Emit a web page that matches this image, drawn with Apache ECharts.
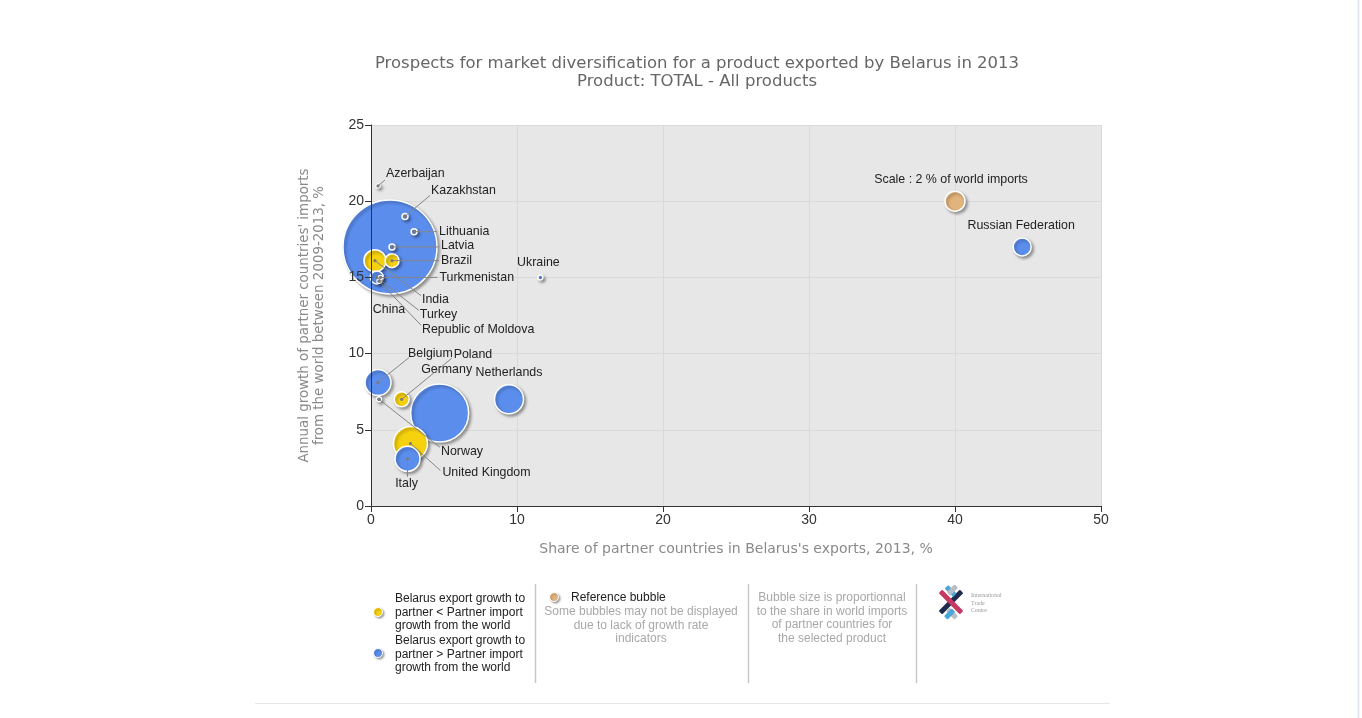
<!DOCTYPE html>
<html>
<head>
<meta charset="utf-8">
<script src="https://cdn.jsdelivr.net/npm/echarts@6/dist/echarts.min.js"></script>
<style>
html,body{margin:0;padding:0;background:#fff;}
#main{width:1362px;height:718px;}
</style>
</head>
<body>
<div id="main"></div>
<script>
// ---------------- DATA ----------------
var countries = ['China','Germany','United Kingdom','Netherlands','Belgium','Italy','India','Russian Federation','Poland','Brazil','Turkey','Kazakhstan','Lithuania','Latvia','Ukraine','Norway','Azerbaijan','Turkmenistan','Republic of Moldova'];
// Share of partner countries in Belarus's exports, 2013, %
var exportShare = [1.3, 4.7, 2.7, 9.45, 0.48, 2.5, 0.27, 44.6, 2.1, 1.44, 0.4, 2.33, 2.95, 1.44, 11.6, 0.55, 0.48, 0.65, 0.55];
// Annual growth of partner countries' imports from the world 2009-2013, %
var importGrowth = [17.0, 6.1, 4.1, 7.0, 8.1, 3.1, 16.1, 17.0, 7.0, 16.1, 15.0, 19.0, 18.0, 17.0, 15.0, 7.0, 21.0, 15.0, 14.75];
// Share in world imports, % (bubble size)
var worldImportShare = [9.4, 5.8, 3.4, 2.9, 2.6, 2.5, 2.2, 1.8, 1.5, 1.4, 1.3, 0.6, 0.6, 0.6, 0.5, 0.5, 0.4, 0.3, 0.3];
// 'lt' : Belarus export growth < partner import growth (yellow), 'gt' : > (blue)
var growthGroup = ['gt','gt','lt','gt','gt','gt','lt','gt','lt','lt','gt','gt','gt','gt','gt','gt','gt','gt','gt'];

var refName = 'Scale : 2 % of world imports';
var refPoint = [40, 20];
var refShare = 2;

var xTicks = [0, 10, 20, 30, 40, 50];
var yTicks = [0, 5, 10, 15, 20, 25];

// ---------------- STYLE / LAYOUT ----------------
var sizePerPct = 10;
var colors = { lt: '#f6d10d', gt: '#5b8ded', ref: '#e2b47c' };
// label text offset [dx,dy], align, leader end offset (px from bubble centre)
var labelSpec = {
  'Azerbaijan': { t: [8, -12], a: 'left', l: [7, -6] },
  'Kazakhstan': { t: [26, -26], a: 'left', l: [25, -21] },
  'Lithuania': { t: [25, 0], a: 'left', l: [23, 0] },
  'Latvia': { t: [49, -1], a: 'left', l: [47, 0] },
  'Brazil': { t: [49, 0], a: 'left', l: [47, 0] },
  'Turkmenistan': { t: [59, 0], a: 'left', l: [57, 0] },
  'India': { t: [47, 39], a: 'left', l: [46, 35] },
  'Turkey': { t: [43, 37], a: 'left', l: [42, 33] },
  'Republic of Moldova': { t: [43, 48], a: 'left', l: [42, 44] },
  'China': { t: [-1, 63], a: 'center' },
  'Ukraine': { t: [-2, -15], a: 'center' },
  'Russian Federation': { t: [-1, -21], a: 'center' },
  'Belgium': { t: [30, -29], a: 'left', l: [31, -25] },
  'Poland': { t: [52, -45], a: 'left', l: [50, -41] },
  'Germany': { t: [7, -43], a: 'center' },
  'Netherlands': { t: [0, -27], a: 'center' },
  'Norway': { t: [62, 52], a: 'left', l: [61, 48] },
  'United Kingdom': { t: [32, 29], a: 'left', l: [30, 27] },
  'Italy': { t: [-1, 25], a: 'center', l: [0, 18] }
};
labelSpec[refName] = { t: [-4, -22], a: 'center' };

var labelFont = '12.4px "Liberation Sans", Arial, sans-serif';

// ---------------- BUILD ----------------
var order = countries.map(function (c, i) { return i; })
  .sort(function (a, b) { return worldImportShare[b] - worldImportShare[a]; });

var bubbleData = order.map(function (i) {
  return {
    name: countries[i],
    value: [exportShare[i], importGrowth[i], worldImportShare[i]],
    itemStyle: { color: colors[growthGroup[i]] }
  };
});

var labelData = countries.map(function (c, i) {
  return { name: c, value: [exportShare[i], importGrowth[i]] };
});
labelData.push({ name: refName, value: refPoint });

var bubbleStyle = {
  borderColor: '#ffffff',
  borderWidth: 1.5,
  shadowColor: 'rgba(0,0,0,0.35)',
  shadowBlur: 3,
  shadowOffsetX: 2,
  shadowOffsetY: 2,
  opacity: 1
};

var chart = echarts.init(document.getElementById('main'), null, { renderer: 'canvas' });

var tickFont = '"Liberation Sans Narrow", "Liberation Sans", Arial, sans-serif';
var nameFont = '"DejaVu Sans", Verdana, sans-serif';
var legendFont = '12px "Liberation Sans", Arial, sans-serif';

function legendDot(x, y, color) {
  return {
    type: 'circle', shape: { cx: x, cy: y, r: 4.5 },
    style: { fill: color, stroke: '#fff', lineWidth: 1, shadowColor: 'rgba(0,0,0,0.35)', shadowBlur: 2, shadowOffsetX: 1.5, shadowOffsetY: 1.5 }
  };
}
function txt(x, y, text, fill, align) {
  return { type: 'text', x: x, y: y, style: { text: text, fill: fill, font: legendFont, align: align || 'left', verticalAlign: 'top', lineHeight: 13.5 } };
}

var gridLine = { show: true, lineStyle: { color: '#dadada', width: 1 } };
var xCommon = { type: 'value', min: 0, max: 50, interval: 10, position: 'bottom', offset: 0 };
var yCommon = { type: 'value', min: 0, max: 25, interval: 5, position: 'left', offset: 0 };
var hidden = { axisLine: { show: false }, axisTick: { show: false }, axisLabel: { show: false }, splitLine: gridLine, z: 0 };

var option = {
  backgroundColor: '#ffffff',
  animation: false,
  grid: {
    left: 371, top: 125, width: 730, height: 381,
    show: true, backgroundColor: '#e7e7e7', borderWidth: 0,
    containLabel: false, outerBoundsMode: 'none'
  },
  xAxis: [
    Object.assign({}, xCommon, hidden),
    Object.assign({}, xCommon, {
      name: "Share of partner countries in Belarus's exports, 2013, %",
      nameLocation: 'middle', nameGap: 36,
      nameTextStyle: { color: '#8a8a8a', fontSize: 14, fontFamily: nameFont },
      axisLine: { show: true, onZero: false, lineStyle: { color: '#333', width: 1 } },
      axisTick: { show: true, length: 6, lineStyle: { color: '#333' } },
      axisLabel: { color: '#333', fontSize: 14, fontFamily: tickFont, margin: 7, showMinLabel: true, showMaxLabel: true,
        formatter: function (v) { return xTicks.indexOf(v) >= 0 ? String(v) : ''; } },
      splitLine: { show: false },
      z: 5
    })
  ],
  yAxis: [
    Object.assign({}, yCommon, hidden),
    Object.assign({}, yCommon, {
      name: "Annual growth of partner countries' imports\nfrom the world between 2009-2013, %",
      nameLocation: 'middle', nameGap: 44, nameRotate: 90,
      nameTextStyle: { color: '#8a8a8a', fontSize: 13.4, fontFamily: nameFont, lineHeight: 15 },
      axisLine: { show: true, onZero: false, lineStyle: { color: '#333', width: 1 } },
      axisTick: { show: true, length: 6, lineStyle: { color: '#333' } },
      axisLabel: { color: '#333', fontSize: 14, fontFamily: tickFont, margin: 7, showMinLabel: true, showMaxLabel: true,
        formatter: function (v) { return yTicks.indexOf(v) >= 0 ? String(v) : ''; } },
      splitLine: { show: false },
      z: 5
    })
  ],
  series: [
    {
      type: 'scatter',
      name: 'partners',
      xAxisIndex: 0, yAxisIndex: 0,
      data: bubbleData,
      symbol: 'circle',
      symbolSize: function (val) { return Math.max(4, val[2] * sizePerPct); },
      itemStyle: bubbleStyle,
      label: { show: false },
      emphasis: { disabled: true },
      clip: false,
      z: 2
    },
    {
      type: 'scatter',
      name: 'reference',
      xAxisIndex: 0, yAxisIndex: 0,
      data: [{ name: refName, value: [refPoint[0], refPoint[1], refShare] }],
      symbol: 'circle',
      symbolSize: function (val) { return val[2] * sizePerPct; },
      itemStyle: Object.assign({}, bubbleStyle, { color: colors.ref }),
      emphasis: { disabled: true },
      z: 2
    },
    {
      type: 'custom',
      name: 'labels',
      coordinateSystem: 'cartesian2d',
      xAxisIndex: 0, yAxisIndex: 0,
      data: labelData,
      clip: false,
      silent: true,
      z: 10,
      renderItem: function (params, api) {
        var name = labelData[params.dataIndex].name;
        var s = labelSpec[name];
        var p = api.coord([api.value(0), api.value(1)]);
        var children = [];
        if (s.l) {
          children.push({ type: 'line', shape: { x1: p[0], y1: p[1], x2: p[0] + s.l[0], y2: p[1] + s.l[1] },
            style: { stroke: '#858585', lineWidth: 1 } });
          children.push({ type: 'circle', shape: { cx: p[0], cy: p[1], r: 1.6 }, style: { fill: '#7a7a7a' } });
        }
        children.push({ type: 'text', x: p[0] + s.t[0], y: p[1] + s.t[1],
          style: { text: name, fill: '#222', font: labelFont, align: s.a, verticalAlign: 'middle' } });
        return { type: 'group', children: children };
      }
    }
  ],
  graphic: [
    // title
    { type: 'text', x: 697, y: 55, style: { text: 'Prospects for market diversification for a product exported by Belarus in 2013\nProduct: TOTAL - All products',
      fill: '#666', font: '16.5px "DejaVu Sans", Verdana, sans-serif', align: 'center', verticalAlign: 'top', lineHeight: 18 } },
    // legend column 1
    legendDot(378, 612, colors.lt),
    txt(395, 592, 'Belarus export growth to\npartner < Partner import\ngrowth from the world', '#222'),
    legendDot(378, 653, colors.gt),
    txt(395, 634, 'Belarus export growth to\npartner > Partner import\ngrowth from the world', '#222'),
    { type: 'line', shape: { x1: 535.5, y1: 584, x2: 535.5, y2: 683 }, style: { stroke: '#c8c8c8', lineWidth: 1.5 } },
    // legend column 2
    legendDot(554, 597, colors.ref),
    txt(571, 591, 'Reference bubble', '#222'),
    txt(641, 605, 'Some bubbles may not be displayed\ndue to lack of growth rate\nindicators', '#a8a8a8', 'center'),
    { type: 'line', shape: { x1: 748.5, y1: 584, x2: 748.5, y2: 683 }, style: { stroke: '#c8c8c8', lineWidth: 1.5 } },
    // legend column 3
    txt(832, 591, 'Bubble size is proportionnal\nto the share in world imports\nof partner countries for\nthe selected product', '#a8a8a8', 'center'),
    { type: 'line', shape: { x1: 916.5, y1: 584, x2: 916.5, y2: 683 }, style: { stroke: '#c8c8c8', lineWidth: 1.5 } },
    // ITC logo (approximation)
    { type: 'group', x: 951, y: 602, children: [
      { type: 'rect', shape: { x: -15, y: -2.5, width: 30, height: 5, r: 1 }, rotation: Math.PI / 4, style: { fill: '#1f2b4d' } },
      { type: 'rect', shape: { x: -15, y: -2.5, width: 30, height: 5, r: 1 }, rotation: -Math.PI / 4, style: { fill: '#c63a62' } },
      { type: 'rect', shape: { x: -14, y: -10, width: 12, height: 5, r: 1 }, rotation: -Math.PI / 4, style: { fill: '#47a7d9' } },
      { type: 'rect', shape: { x: 3, y: 5, width: 12, height: 5, r: 1 }, rotation: -Math.PI / 4, style: { fill: '#b8bcc4' } },
      { type: 'rect', shape: { x: -15, y: 5, width: 11, height: 5, r: 1 }, rotation: Math.PI / 4, style: { fill: '#47a7d9' } },
      { type: 'rect', shape: { x: 4, y: -10, width: 11, height: 5, r: 1 }, rotation: Math.PI / 4, style: { fill: '#b8bcc4' } }
    ] },
    { type: 'text', x: 971, y: 592, style: { text: 'International\nTrade\nCentre', fill: '#9a9a9a', font: '6px "Liberation Serif", serif', lineHeight: 7.5 } },
    // bottom rule and right frame edge
    { type: 'line', shape: { x1: 255, y1: 703.5, x2: 1110, y2: 703.5 }, style: { stroke: '#e6e6e6', lineWidth: 1 } },
    { type: 'line', shape: { x1: 1358.5, y1: 0, x2: 1358.5, y2: 718 }, style: { stroke: '#dde4ec', lineWidth: 1.5 } }
  ]
};
chart.setOption(option);
</script>
</body>
</html>
